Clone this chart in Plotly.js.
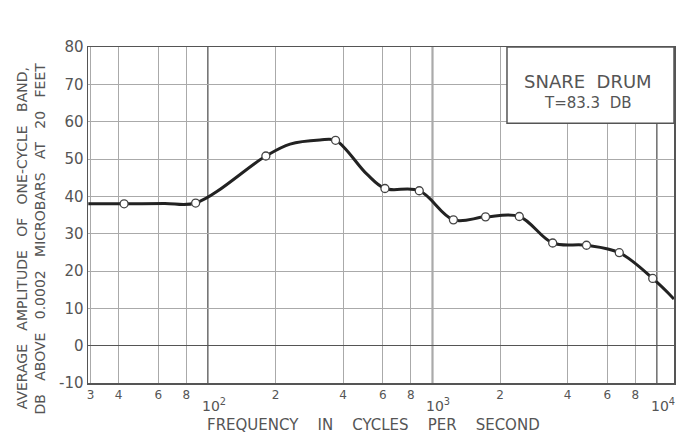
<!DOCTYPE html>
<html>
<head>
<meta charset="utf-8">
<script src="https://cdn.plot.ly/plotly-3.0.1.min.js"></script>
<style>html,body{margin:0;padding:0;background:#fff;}#chart{width:687px;height:438px;}</style>
</head>
<body>
<div id="chart"></div>
<script>
// Measured points (open circles)
const pointFreq = [42.3, 88.1, 181, 370, 614, 873, 1239, 1723, 2436, 3430, 4852, 6792, 9571];
const pointDb   = [38.0, 38.2, 50.8, 55.0, 42.1, 41.5, 33.7, 34.5, 34.6, 27.5, 26.9, 24.9, 18.0];

// Drawn smooth curve, read along its path
const curveFreq = [29.3, 42.3, 64, 88.1, 181, 232, 315, 370, 509, 614, 873, 1239, 1723, 2436, 3430, 4852, 6792, 9571, 11900];
const curveDb   = [38.0, 38.0, 38.1, 38.2, 50.8, 54.0, 55.1, 55.0, 46.0, 42.1, 41.5, 33.7, 34.5, 34.6, 27.5, 26.9, 24.9, 18.0, 12.5];

// Axis ticks
const xGridVals  = [30, 40, 60, 80, 100, 200, 400, 600, 800, 1000, 2000, 4000, 6000, 8000, 10000];
const xTickText  = ["3", "4", "6", "8", "", "2", "4", "6", "8", "", "2", "4", "6", "8", ""];
const decadeVals = [100, 1000, 10000];
const decadeText = ["10<sup>2</sup>", "10<sup>3</sup>", "10<sup>4</sup>"];
const yTickVals  = [-10, 0, 10, 20, 30, 40, 50, 60, 70, 80];
const yTickText  = ["-10", "0", "10", "20", "30", "40", "50", "60", "70", "80"];

const textColor = "#555";
const font = {family: "DejaVu Sans, sans-serif", color: textColor};
const gap = (s, n) => s.split(" ").join("\u00A0".repeat(n));

const traces = [
  {x: curveFreq, y: curveDb, type: "scatter", mode: "lines",
   line: {color: "#222", width: 3, shape: "spline", smoothing: 1}, hoverinfo: "skip"},
  {x: pointFreq, y: pointDb, type: "scatter", mode: "markers",
   marker: {symbol: "circle", size: 8, color: "#fff", line: {color: "#444", width: 1.3}}}
];

const shapes = decadeVals.map(v => ({type: "line", xref: "x", yref: "paper", x0: v, x1: v, y0: 0, y1: 1,
  line: {color: "#555", width: 1.6}, layer: "below"}));
shapes.push({type: "rect", xref: "paper", yref: "paper", x0: 0.715, x1: 1, y0: 0.773, y1: 1,
  fillcolor: "#fff", line: {color: "#555", width: 1.5}, layer: "above"});

const annotations = decadeVals.map((v, i) => ({xref: "x", yref: "paper", x: Math.log10(v) + 0.025, y: -0.066,
  text: decadeText[i], showarrow: false, xanchor: "center", yanchor: "middle",
  font: Object.assign({size: 14}, font)}));
annotations.push(
  {xref: "paper", yref: "paper", x: 0.853, y: 0.898, text: gap("SNARE DRUM", 2), showarrow: false,
   font: Object.assign({size: 18}, font), xanchor: "center", yanchor: "middle"},
  {xref: "paper", yref: "paper", x: 0.853, y: 0.834, text: gap("T=83.3 DB", 2), showarrow: false,
   font: Object.assign({size: 15}, font), xanchor: "center", yanchor: "middle"},
  {xref: "paper", yref: "paper", x: 0.488, y: -0.125, text: gap("FREQUENCY IN CYCLES PER SECOND", 4), showarrow: false,
   font: Object.assign({size: 15}, font), xanchor: "center", yanchor: "middle"},
  {xref: "paper", yref: "paper", x: -0.113, y: 0.43, text: gap("AVERAGE AMPLITUDE OF ONE-CYCLE BAND,", 3), showarrow: false,
   textangle: -90, font: Object.assign({size: 14}, font), xanchor: "center", yanchor: "middle"},
  {xref: "paper", yref: "paper", x: -0.082, y: 0.43, text: gap("DB ABOVE 0.0002 MICROBARS AT 20 FEET", 3), showarrow: false,
   textangle: -90, font: Object.assign({size: 14}, font), xanchor: "center", yanchor: "middle"}
);

const layout = {
  width: 687, height: 438,
  margin: {l: 88, r: 13, t: 47, b: 55},
  paper_bgcolor: "#fff", plot_bgcolor: "#fff",
  showlegend: false,
  font: font,
  xaxis: {type: "log", range: [1.4655, 4.0757], tickmode: "array", tickvals: xGridVals, ticktext: xTickText,
          showgrid: true, gridcolor: "#aaa", gridwidth: 1, ticks: "", ticklen: 0,
          tickfont: Object.assign({size: 12}, font), showline: true, linecolor: "#555", linewidth: 1.5,
          mirror: true, zeroline: false, fixedrange: true},
  yaxis: {range: [-10, 80], tickmode: "array", tickvals: yTickVals, ticktext: yTickText,
          showgrid: true, gridcolor: "#aaa", gridwidth: 1, ticks: "", ticklen: 0,
          tickfont: Object.assign({size: 15}, font), showline: true, linecolor: "#555", linewidth: 1.5,
          mirror: true, zeroline: true, zerolinecolor: "#555", zerolinewidth: 1.6, fixedrange: true},
  shapes: shapes,
  annotations: annotations
};

Plotly.newPlot("chart", traces, layout, {displayModeBar: false, staticPlot: true});
</script>
</body>
</html>
